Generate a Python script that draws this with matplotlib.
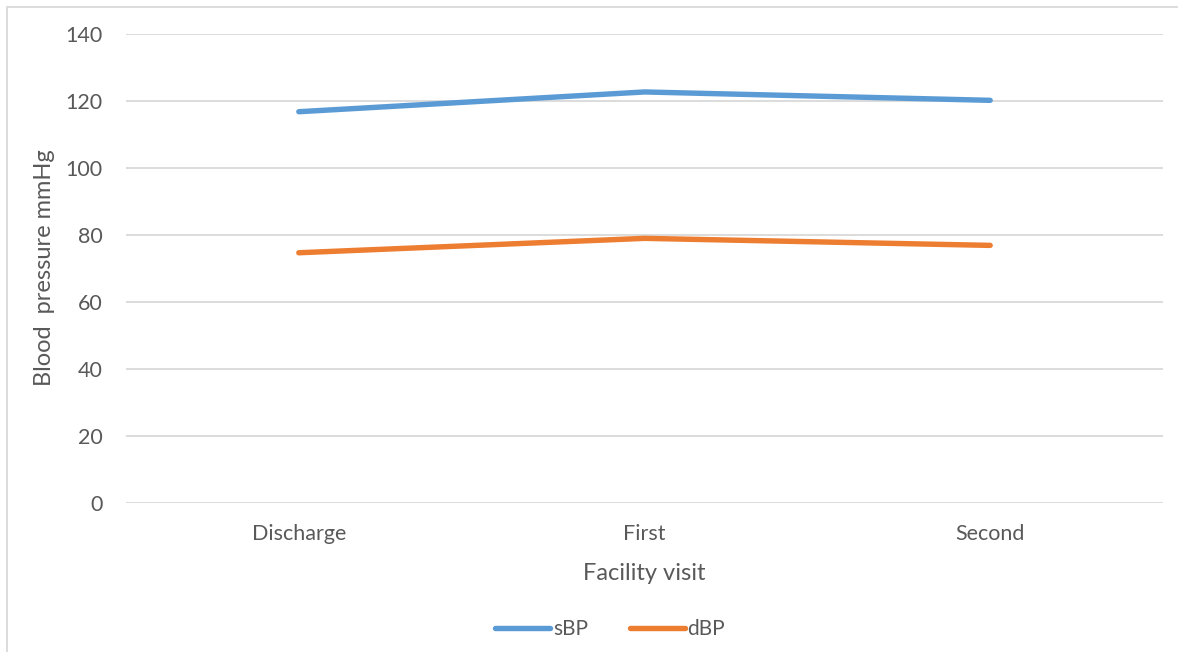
import matplotlib
matplotlib.use("Agg")
import matplotlib.pyplot as plt
from matplotlib.patches import Rectangle

categories = ["Discharge", "First", "Second"]
sbp = [116.8, 122.7, 120.2]
dbp = [74.7, 79.0, 76.9]
yticks = [0, 20, 40, 60, 80, 100, 120, 140]

plt.rcParams['font.family'] = ['Lato', 'DejaVu Sans']
TXT = '#595959'

fig = plt.figure(figsize=(11.78, 6.52), dpi=100)
ax = fig.add_axes([126/1178, 1-503/652, (1163-126)/1178, (503-34)/652])

x = list(range(len(categories)))
l1, = ax.plot(x, sbp, color='#5B9BD5', lw=3.9, solid_capstyle='round', solid_joinstyle='round', label='sBP')
l2, = ax.plot(x, dbp, color='#ED7D31', lw=3.9, solid_capstyle='round', solid_joinstyle='round', label='dBP')

ax.set_xlim(-0.5, len(categories)-0.5)
ax.set_ylim(0, 140)
ax.set_yticks(yticks)
ax.set_xticks(x)
ax.set_xticklabels(categories)
ax.grid(axis='y', color='#D9D9D9', lw=1.3)
ax.set_axisbelow(True)
for s in ax.spines.values():
    s.set_visible(False)
ax.tick_params(axis='both', length=0, labelsize=15.5, colors=TXT)
ax.tick_params(axis='y', pad=17)
ax.tick_params(axis='x', pad=15)

ax.set_xlabel('Facility visit', fontsize=17, color=TXT, labelpad=14)
fig.text(45/1178, 1-268/652, 'Blood  pressure mmHg', rotation=90, fontsize=17,
         color=TXT, ha='center', va='center')

leg = fig.legend(handles=[l1, l2], loc='center', bbox_to_anchor=(610/1178, 1-629/652),
                 ncol=2, frameon=False, fontsize=15, handlelength=2.65,
                 handletextpad=0.12, columnspacing=2.0, labelcolor=TXT)

# outer chart border (left and top visible)
fig.patches.append(Rectangle((7/1178, -0.05), 1.2, 1-7/652+0.05, transform=fig.transFigure,
                             fill=False, edgecolor='#D9D9D9', lw=1.3))

fig.savefig('out.png', dpi=100)
